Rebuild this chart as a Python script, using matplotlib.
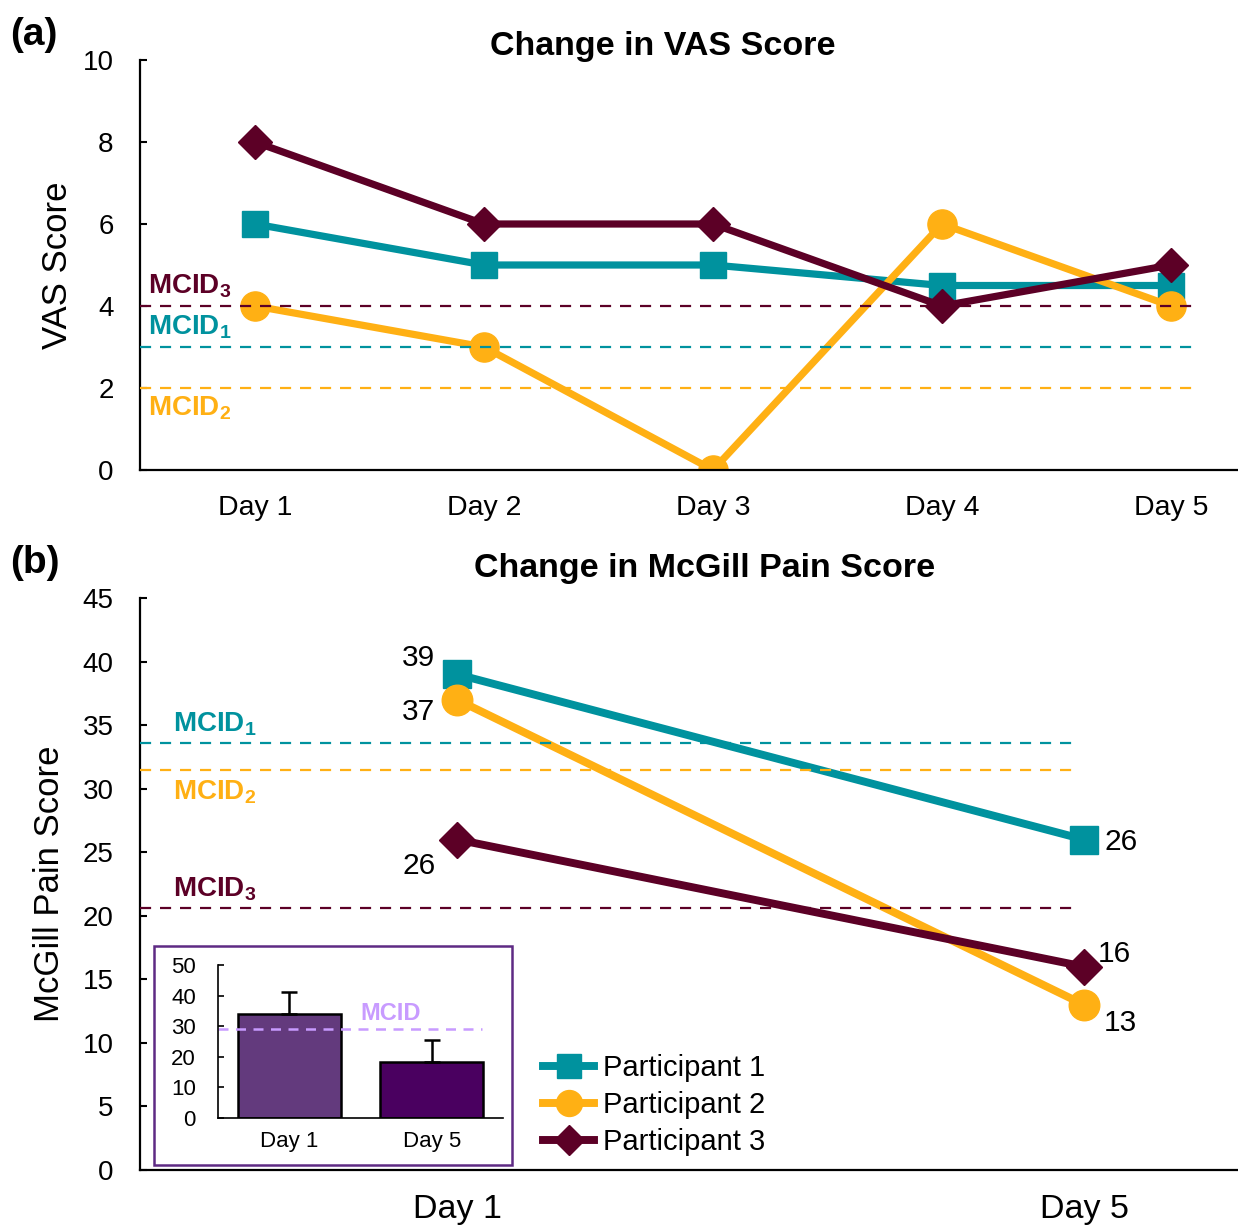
import matplotlib
matplotlib.use("Agg")
import matplotlib.pyplot as plt
from matplotlib.patches import Rectangle

plt.rcParams['font.family'] = ['Liberation Sans', 'DejaVu Sans']
plt.rcParams['mathtext.fontset'] = 'custom'
plt.rcParams['mathtext.rm'] = 'Liberation Sans'
plt.rcParams['mathtext.bf'] = 'Liberation Sans:bold'

# ---- data ----
vas_days = ["Day 1", "Day 2", "Day 3", "Day 4", "Day 5"]
vas_p1 = [6, 5, 5, 4.5, 4.5]
vas_p2 = [4, 3, 0, 6, 4]
vas_p3 = [8, 6, 6, 4, 5]
vas_mcid = {"1": 3, "2": 2, "3": 4}

mcgill_days = ["Day 1", "Day 5"]
mcgill_p1 = [39, 26]
mcgill_p2 = [37, 13]
mcgill_p3 = [26, 16]
mcgill_mcid = {"1": 33.6, "2": 31.5, "3": 20.6}

inset_days = ["Day 1", "Day 5"]
inset_mean = [34, 18.3]
inset_err = [7.2, 7.2]
inset_mcid = 29

participants = ["Participant 1", "Participant 2", "Participant 3"]

TEAL = "#00929E"
ORANGE = "#FFB014"
MAROON = "#5C0026"
LILAC = "#C89BFF"
BOXPURPLE = "#5E2A84"
BAR1 = "#633A7D"
BAR2 = "#4A0060"

W, H = 1238, 1230
fig = plt.figure(figsize=(W / 100, H / 100), dpi=100)


def px_axes(left, top, right, bottom):
    return fig.add_axes([left / W, 1 - bottom / H, (right - left) / W, (bottom - top) / H])


def style_axes(ax, tick_size, pad):
    for s in ("top", "right"):
        ax.spines[s].set_visible(False)
    for s in ("left", "bottom"):
        ax.spines[s].set_linewidth(1.6)
    ax.tick_params(axis="y", direction="in", length=5, width=1.5, labelsize=tick_size, pad=pad)
    ax.tick_params(axis="x", length=0)


series = [(vas_p1, TEAL, "s"), (vas_p2, ORANGE, "o"), (vas_p3, MAROON, "D")]
msize = {"s": 19, "o": 21, "D": 17}

# ---- (a) VAS ----
ax1 = px_axes(140, 60, 1238, 470)
x1 = list(range(1, len(vas_days) + 1))
for (vals, col, mk), name in zip(series, participants):
    ax1.plot(x1, vals, color=col, marker=mk, ms=msize[mk], lw=5.2, label=name)
ax1.set_xlim(1 - 115 / 229, 1 + (1238 - 255) / 229)
ax1.set_ylim(0, 10)
ax1.set_yticks(range(0, 11, 2))
ax1.set_xticks(x1)
ax1.set_xticklabels(vas_days)
style_axes(ax1, 20, 19)
ax1.tick_params(axis="x", labelsize=20.5, pad=18)
ax1.set_ylabel("VAS Score", fontsize=25, labelpad=6)
fig.text(663 / W, 1 - 47 / H, "Change in VAS Score", fontsize=24.5, fontweight="bold",
         ha="center", va="center")

mcid_cols = {"1": TEAL, "2": ORANGE, "3": MAROON}
xend1 = 1 + (1197 - 255) / 229
for k, v in vas_mcid.items():
    ax1.plot([ax1.get_xlim()[0], xend1], [v, v], color=mcid_cols[k], lw=1.6,
             ls=(0, (5, 4)), zorder=5)
xlab1 = 1 - (255 - 148) / 229
ax1.text(xlab1, 4.15, r"$\mathbf{MCID}_\mathbf{3}$", color=MAROON, fontsize=20, va="bottom")
ax1.text(xlab1, 3.15, r"$\mathbf{MCID}_\mathbf{1}$", color=TEAL, fontsize=20, va="bottom")
ax1.text(xlab1, 1.85, r"$\mathbf{MCID}_\mathbf{2}$", color=ORANGE, fontsize=20, va="top")

# ---- (b) McGill ----
ax2 = px_axes(140, 598, 1238, 1170)
x2 = [1, 2]
mseries = [(mcgill_p1, TEAL, "s"), (mcgill_p2, ORANGE, "o"), (mcgill_p3, MAROON, "D")]
handles = []
for (vals, col, mk), name in zip(mseries, participants):
    h, = ax2.plot(x2, vals, color=col, marker=mk, ms=msize[mk] + 1, lw=5.7, label=name)
    handles.append(h)
ax2.set_xlim(1 - 317 / 627, 1 + (1238 - 457) / 627)
ax2.set_ylim(0, 45)
ax2.set_yticks(range(0, 46, 5))
ax2.set_xticks(x2)
ax2.set_xticklabels(mcgill_days)
style_axes(ax2, 20, 19)
ax2.tick_params(axis="x", labelsize=24.5, pad=17)
ax2.set_ylabel("McGill Pain Score", fontsize=25, labelpad=12)
fig.text(705 / W, 1 - 568 / H, "Change in McGill Pain Score", fontsize=24.5, fontweight="bold",
         ha="center", va="center")

xend2 = 1 + (1072 - 457) / 627
for k, v in mcgill_mcid.items():
    ax2.plot([ax2.get_xlim()[0], xend2], [v, v], color=mcid_cols[k], lw=1.6,
             ls=(0, (5, 4)), zorder=5)
xlab2 = 1 - (457 - 173) / 627
ax2.text(xlab2, 34.0, r"$\mathbf{MCID}_\mathbf{1}$", color=TEAL, fontsize=20, va="bottom")
ax2.text(xlab2, 30.8, r"$\mathbf{MCID}_\mathbf{2}$", color=ORANGE, fontsize=20, va="top")
ax2.text(xlab2, 21.0, r"$\mathbf{MCID}_\mathbf{3}$", color=MAROON, fontsize=20, va="bottom")

label_offsets = [[(-28, 12), (27, -2)], [(-28, -9), (26, -13)], [(-27, -19), (22, 9)]]
for vals, offs in zip([mcgill_p1, mcgill_p2, mcgill_p3], label_offsets):
    for xi, v, off in zip(x2, vals, offs):
        ax2.annotate(str(v), (xi, v), xytext=off, textcoords="offset points",
                     ha="center", va="center", fontsize=21.5)

ax2.legend(handles=handles, loc="upper left", bbox_to_anchor=(517 / W, 1 - 1028 / H),
           bbox_transform=fig.transFigure, frameon=False, fontsize=21,
           markerscale=0.85, handlelength=1.75, handletextpad=0.3, labelspacing=0.3)

# ---- inset ----
fig.add_artist(Rectangle((154 / W, 1 - 1165 / H), (512 - 154) / W, (1165 - 946) / H,
                         transform=fig.transFigure, facecolor="white",
                         edgecolor=BOXPURPLE, lw=1.8, zorder=3))
axi = px_axes(218, 965, 503, 1118)
axi.set_zorder(4)
axi.patch.set_alpha(0)
axi.bar([1, 2], inset_mean, width=0.72, color=[BAR1, BAR2], edgecolor="black", lw=1.8,
        yerr=[[0, 0], inset_err], error_kw=dict(ecolor="black", elinewidth=1.8,
                                                 capsize=6, capthick=1.8))
axi.plot([0.5, 2.35], [inset_mcid, inset_mcid], color=LILAC, lw=1.8, ls=(0, (4, 3)))
axi.text(1.71, 34.3, "MCID", color=LILAC, fontsize=17, fontweight="bold", ha="center", va="center")
axi.set_xlim(0.5, 2.5)
axi.set_ylim(0, 50)
axi.set_yticks(range(0, 51, 10))
axi.set_xticks([1, 2])
axi.set_xticklabels(inset_days)
for s in ("top", "right"):
    axi.spines[s].set_visible(False)
axi.spines["left"].set_linewidth(1.2)
axi.spines["bottom"].set_linewidth(1.2)
axi.tick_params(axis="y", direction="in", length=4, width=1.2, labelsize=16, pad=16)
axi.tick_params(axis="x", length=0, labelsize=16, pad=9)

fig.text(10 / W, 1 - 35 / H, "(a)", fontsize=28, fontweight="bold", va="center")
fig.text(10 / W, 1 - 563 / H, "(b)", fontsize=28, fontweight="bold", va="center")

fig.savefig("out.png", dpi=100)
